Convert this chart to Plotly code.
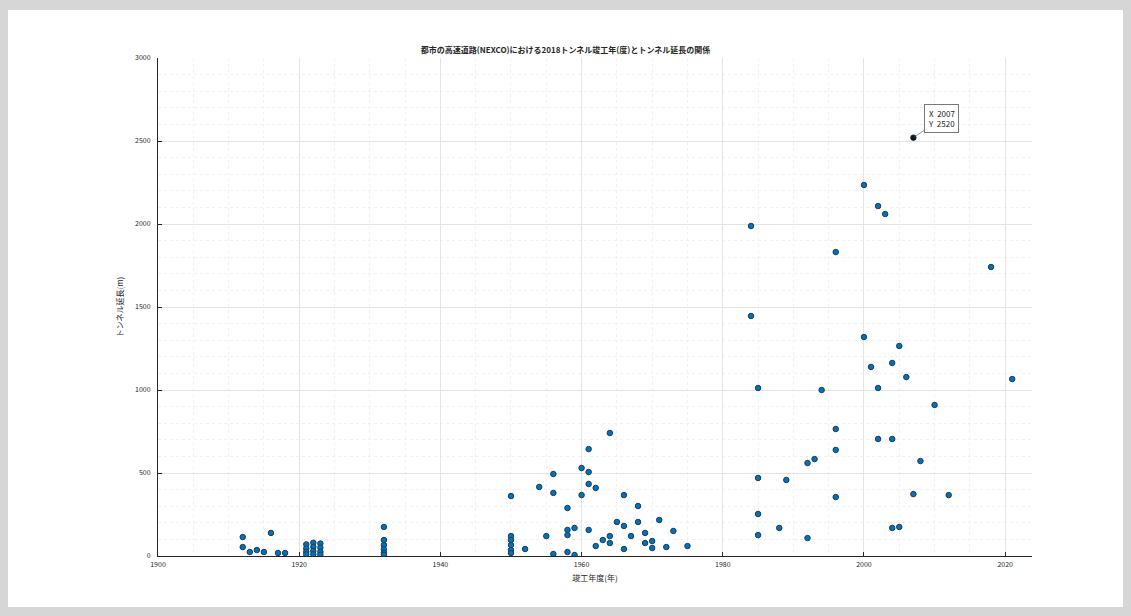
import plotly.graph_objects as go

# Data (year of completion, tunnel length in m)
years = [
    1912, 1912, 1913, 1914, 1915, 1916, 1917, 1918,
    1921, 1921, 1921, 1921, 1922, 1922, 1922, 1922, 1923, 1923, 1923, 1923,
    1932, 1932, 1932, 1932, 1932, 1932,
    1950, 1950, 1950, 1950, 1950, 1950, 1952, 1954, 1955, 1956, 1956, 1956,
    1958, 1958, 1958, 1958, 1959, 1959, 1960, 1960, 1961, 1961, 1961, 1961,
    1962, 1962, 1963, 1964, 1964, 1964, 1965, 1966, 1966, 1966, 1967, 1968,
    1968, 1969, 1969, 1970, 1970, 1971, 1972, 1973, 1975,
    1984, 1984, 1985, 1985, 1985, 1985, 1988, 1989, 1992, 1992, 1993, 1994,
    1996, 1996, 1996, 1996, 2000, 2000, 2001, 2002, 2002, 2002, 2003, 2004,
    2004, 2004, 2005, 2005, 2006, 2007, 2007, 2008, 2010, 2012, 2018, 2021,
]
lengths = [
    114, 54, 24, 36, 24, 139, 18, 18,
    70, 45, 25, 10, 80, 55, 30, 10, 75, 50, 25, 8,
    175, 96, 66, 40, 20, 8,
    361, 120, 96, 66, 36, 18, 42, 416, 120, 494, 380, 12,
    289, 157, 126, 24, 169, 6, 530, 367, 644, 506, 434, 157,
    410, 60, 96, 741, 120, 78, 205, 367, 181, 42, 120, 301,
    205, 139, 78, 90, 48, 217, 54, 151, 60,
    1988, 1446, 1012, 470, 253, 126, 169, 458, 560, 108, 584, 1000,
    1831, 765, 639, 355, 2235, 1319, 1139, 2108, 1012, 705, 2060, 1163,
    705, 169, 1265, 175, 1078, 373, 2520, 572, 910, 367, 1741, 1066,
]

tip_x = 2007
tip_y = 2520

x_ticks = [1900, 1920, 1940, 1960, 1980, 2000, 2020]
y_ticks = [0, 500, 1000, 1500, 2000, 2500, 3000]

title_text = "都市の高速道路(NEXCO)における2018トンネル竣工年(度)とトンネル延長の関係"
x_label = "竣工年度(年)"
y_label = "トンネル延長(m)"

FONT = "Noto Sans CJK JP, Noto Sans, sans-serif"

fig = go.Figure()
fig.add_trace(go.Scatter(
    x=years, y=lengths, mode="markers",
    marker=dict(size=5.5, color="#0072BD", line=dict(color="#1d3c57", width=1)),
    showlegend=False, hoverinfo="x+y",
))
fig.add_trace(go.Scatter(
    x=[tip_x], y=[tip_y], mode="markers",
    marker=dict(size=5, color="#111111"),
    showlegend=False, hoverinfo="skip",
))

fig.add_annotation(
    x=tip_x, y=tip_y, xref="x", yref="y",
    text="X  %d<br>Y  %d" % (tip_x, tip_y),
    showarrow=True, arrowhead=0, arrowwidth=0.6, arrowcolor="#555555",
    ax=28, ay=-19, align="left",
    font=dict(family=FONT, size=8, color="#262626"),
    bgcolor="#ffffff", bordercolor="#7a7a7a", borderwidth=1, borderpad=3,
)

# white figure sheet over the gray window background
fig.add_shape(type="rect", xref="paper", yref="paper",
              x0=-0.1716, x1=1.1041, y0=-0.1024, y1=1.0964,
              fillcolor="#ffffff", line=dict(width=0), layer="below")

fig.update_layout(
    width=1131, height=616,
    paper_bgcolor="#d6d6d6", plot_bgcolor="#ffffff",
    margin=dict(l=158, r=99, t=58, b=60),
    font=dict(family=FONT, size=8, color="#262626"),
    title=dict(text="<b>" + title_text + "</b>", x=0.5, xanchor="center",
               y=1 - 50 / 616, yanchor="middle",
               font=dict(family=FONT, size=8, color="#262626")),
    xaxis=dict(
        range=[1900, 2023.8], tickvals=x_ticks, ticktext=[str(v) for v in x_ticks],
        showline=True, linecolor="#262626", linewidth=1, mirror=False,
        ticks="inside", ticklen=4, tickcolor="#262626",
        showgrid=True, gridcolor="#e4e4e4", gridwidth=1, zeroline=False,
        minor=dict(dtick=5, showgrid=True, gridcolor="#f1f1f1", griddash="dot"),
        title=dict(text=x_label, font=dict(family=FONT, size=8), standoff=6),
        tickfont=dict(size=7), ticklabelstandoff=2,
    ),
    yaxis=dict(
        range=[0, 3000], tickvals=y_ticks, ticktext=[str(v) for v in y_ticks],
        showline=True, linecolor="#262626", linewidth=1, mirror=False,
        ticks="inside", ticklen=4, tickcolor="#262626",
        showgrid=True, gridcolor="#e4e4e4", gridwidth=1, zeroline=False,
        minor=dict(dtick=100, showgrid=True, gridcolor="#f1f1f1", griddash="dot"),
        title=dict(text=y_label, font=dict(family=FONT, size=8), standoff=10),
        tickfont=dict(size=7), ticklabelstandoff=5,
    ),
)

fig.write_html(
    "out.html",
    config={"displayModeBar": False},
    post_script="document.body.style.margin='0';document.body.style.overflow='hidden';",
)
